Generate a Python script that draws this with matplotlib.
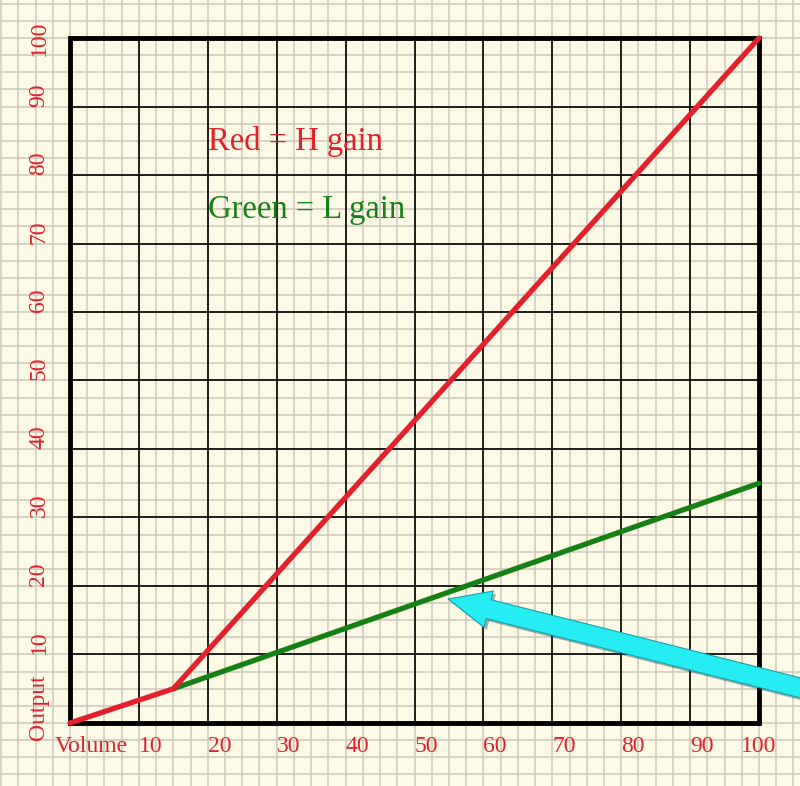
import matplotlib.pyplot as plt
from matplotlib.patches import FancyArrowPatch, Rectangle
import matplotlib.patheffects as pe
import numpy as np

# data
red_volume = [0, 15, 100]
red_output = [0, 5, 100]
green_volume = [15, 100]
green_output = [5, 35]
x_ticks = [10, 20, 30, 40, 50, 60, 70, 80, 90, 100]
y_ticks = [10, 20, 30, 40, 50, 60, 70, 80, 90, 100]
arrow_tip = (54.9, 18.1)
arrow_tail = (112, 3.6)

BG = '#FCFAE4'
RED = '#E3202C'
GREEN = '#168016'
FONT = 'Liberation Serif'

fig = plt.figure(figsize=(8, 7.86), dpi=100, facecolor=BG)
ax = fig.add_axes([0, 0, 1, 1])
ax.set_facecolor(BG)
ax.set_xlim(-10.16, 105.95)
ax.set_ylim(-9.2, 105.55)
ax.axis('off')

# background paper grid (2.5 unit spacing)
for v in np.arange(-10, 107.5, 2.5):
    ax.axvline(v, color='#CCC9BC', lw=1.1, zorder=1)
for v in np.arange(-10, 107.5, 2.5):
    ax.axhline(v, color='#CCC9BC', lw=1.1, zorder=1)

# major grid inside the box
for v in x_ticks[:-1]:
    ax.plot([v, v], [0, 100], color='black', lw=1.2, zorder=2)
for v in y_ticks[:-1]:
    ax.plot([0, 100], [v, v], color='black', lw=1.2, zorder=2)
ax.add_patch(Rectangle((0, 0), 100, 100, fill=False, ec='black', lw=3.5, zorder=3))

# lines
ax.plot(green_volume, green_output, color=GREEN, lw=3.8, zorder=4, solid_capstyle='round')
ax.plot(red_volume, red_output, color=RED, lw=3.8, zorder=5, solid_capstyle='round')

# tick labels
for v in x_ticks:
    ha = 'center' if v == 100 else 'left'
    ax.text(v, -3.5, str(v), color=RED, fontsize=17, family=FONT, ha=ha, va='center')
for v in y_ticks:
    ha = 'center' if v == 100 else 'left'
    ax.text(-4.5, v, str(v), color=RED, fontsize=17, family=FONT, rotation=90,
            ha=ha, va='center', rotation_mode='anchor')
ax.text(-2.2, -3.5, 'Volume', color=RED, fontsize=17, family=FONT, ha='left', va='center')
ax.text(-4.5, -2.5, 'Output', color=RED, fontsize=17, family=FONT, rotation=90,
        ha='left', va='center', rotation_mode='anchor')

# legend texts
ax.text(20, 83.6, 'Red = H gain', color=RED, fontsize=23.5, family=FONT, va='baseline')
ax.text(20, 73.7, 'Green = L gain', color=GREEN, fontsize=23.5, family=FONT, va='baseline')

# cyan arrow
arr = FancyArrowPatch(arrow_tail, arrow_tip,
                      arrowstyle='simple,head_width=2.7,head_length=3.0,tail_width=1.4',
                      mutation_scale=10, fc='#26ECF4', ec='#1A9FAA', lw=0.8,
                      zorder=6, clip_on=False, shrinkA=0, shrinkB=0)
arr.set_path_effects([pe.SimplePatchShadow(offset=(2, -2), alpha=0.4), pe.Normal()])
ax.add_patch(arr)

fig.savefig('out.png', dpi=100, facecolor=BG)
